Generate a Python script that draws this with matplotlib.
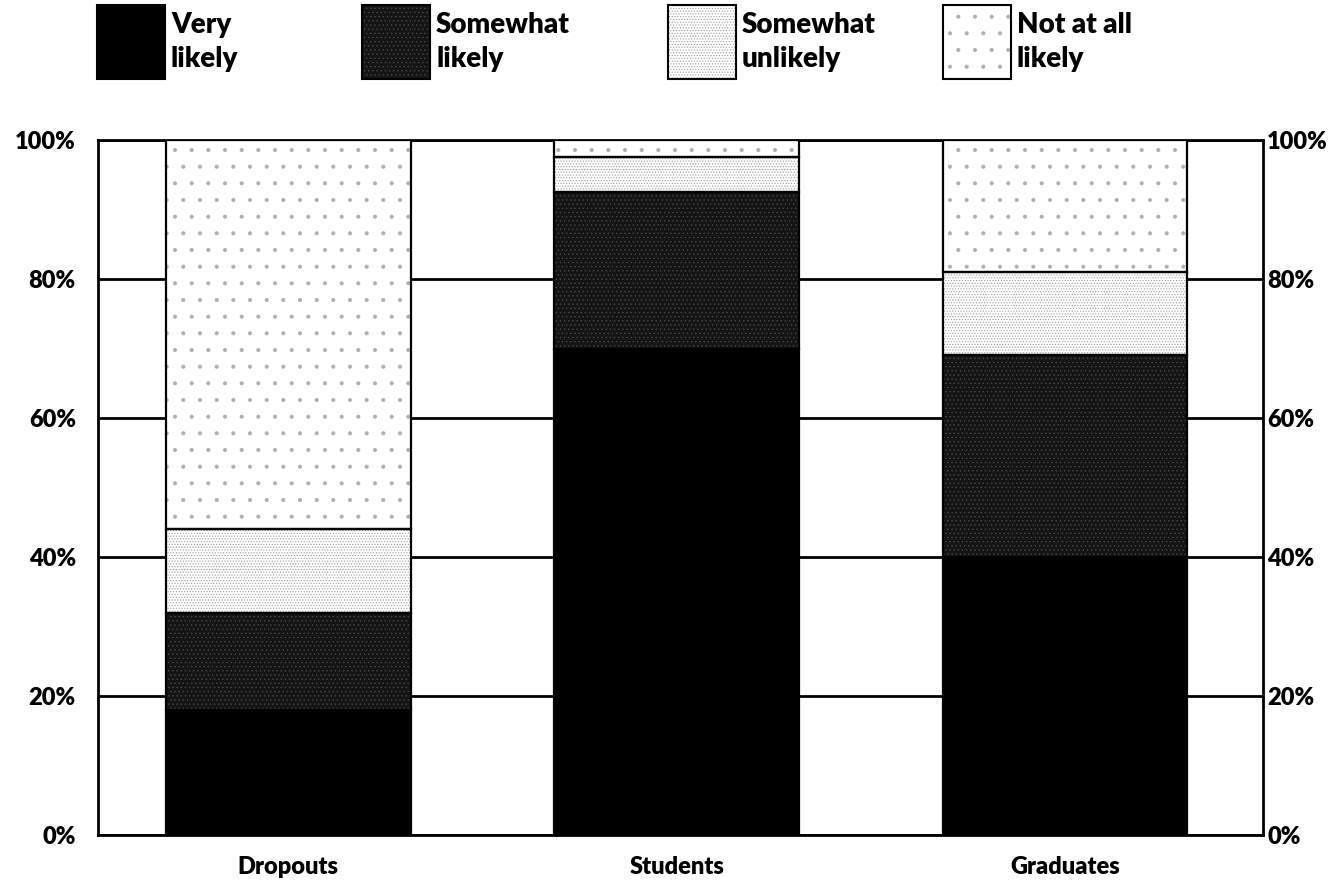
import numpy as np
import matplotlib
matplotlib.use("Agg")
import matplotlib.pyplot as plt
from matplotlib.patches import Rectangle

groups = ["Dropouts", "Students", "Graduates"]
very_likely = [18, 70, 40]
somewhat_likely = [14, 22.5, 29]
somewhat_unlikely = [12, 5, 12]
not_at_all = [56, 2.5, 19]

labels = ["Very\nlikely", "Somewhat\nlikely", "Somewhat\nunlikely", "Not at all\nlikely"]
series = [very_likely, somewhat_likely, somewhat_unlikely, not_at_all]
# fill colour, hatch, hatch colour for each series
styles = [("#000000", None, None),
          ("#141414", "....", "#4a4a4a"),
          ("#ffffff", "......", "#a0a0a0"),
          ("#ffffff", ".", "#b0b0b0")]

plt.rcParams["font.family"] = ["Lato", "DejaVu Sans"]
plt.rcParams["font.weight"] = "heavy"
plt.rcParams["hatch.linewidth"] = 0.5

W, H = 1341, 884
fig = plt.figure(figsize=(W / 100, H / 100), dpi=100)
ax = fig.add_axes([98 / W, 1 - 835 / H, (1263 - 98) / W, (835 - 140) / H])

x = np.arange(len(groups))
width = 0.63
bottom = np.zeros(len(groups))
for vals, (fc, hatch, hc) in zip(series, styles):
    vals = np.array(vals, dtype=float)
    ax.bar(x, vals, width, bottom=bottom, color=fc, edgecolor=hc or fc,
           hatch=hatch, linewidth=0, zorder=3)
    ax.bar(x, vals, width, bottom=bottom, fill=False, edgecolor="black",
           linewidth=1.6, zorder=4)
    bottom += vals

ax.set_xlim(-0.49, 2.51)
ax.set_ylim(0, 100)
yt = [0, 20, 40, 60, 80, 100]
ax.set_yticks(yt)
ax.set_yticklabels([f"{v}%" for v in yt])
ax.yaxis.grid(True, color="black", linewidth=2, zorder=0)
ax.set_axisbelow(True)
ax.tick_params(axis="y", length=0, labelsize=17, pad=16)
ax.set_xticks(x)
ax.set_xticklabels(groups)
ax.tick_params(axis="x", length=0, labelsize=17, pad=15)
for s in ax.spines.values():
    s.set_linewidth(2)

ax2 = ax.twinx()
ax2.set_ylim(0, 100)
ax2.set_yticks(yt)
ax2.set_yticklabels([f"{v}%" for v in yt])
ax2.tick_params(axis="y", length=0, labelsize=17, pad=3)
for s in ax2.spines.values():
    s.set_visible(False)

# key across the top
swatch_x = [97, 362, 668, 943]
for sx, lab, (fc, hatch, hc) in zip(swatch_x, labels, styles):
    r = Rectangle((sx / W, 1 - 79 / H), 68 / W, 74 / H, transform=fig.transFigure,
                  facecolor=fc, edgecolor=hc or fc, hatch=hatch, linewidth=0)
    fig.add_artist(r)
    fig.add_artist(Rectangle((sx / W, 1 - 79 / H), 68 / W, 74 / H,
                             transform=fig.transFigure, fill=False,
                             edgecolor="black", linewidth=1.5))
    fig.text((sx + 74) / W, 1 - 42 / H, lab, fontsize=20, va="center",
             ha="left", linespacing=1.35)

fig.savefig("out.png", dpi=100)
